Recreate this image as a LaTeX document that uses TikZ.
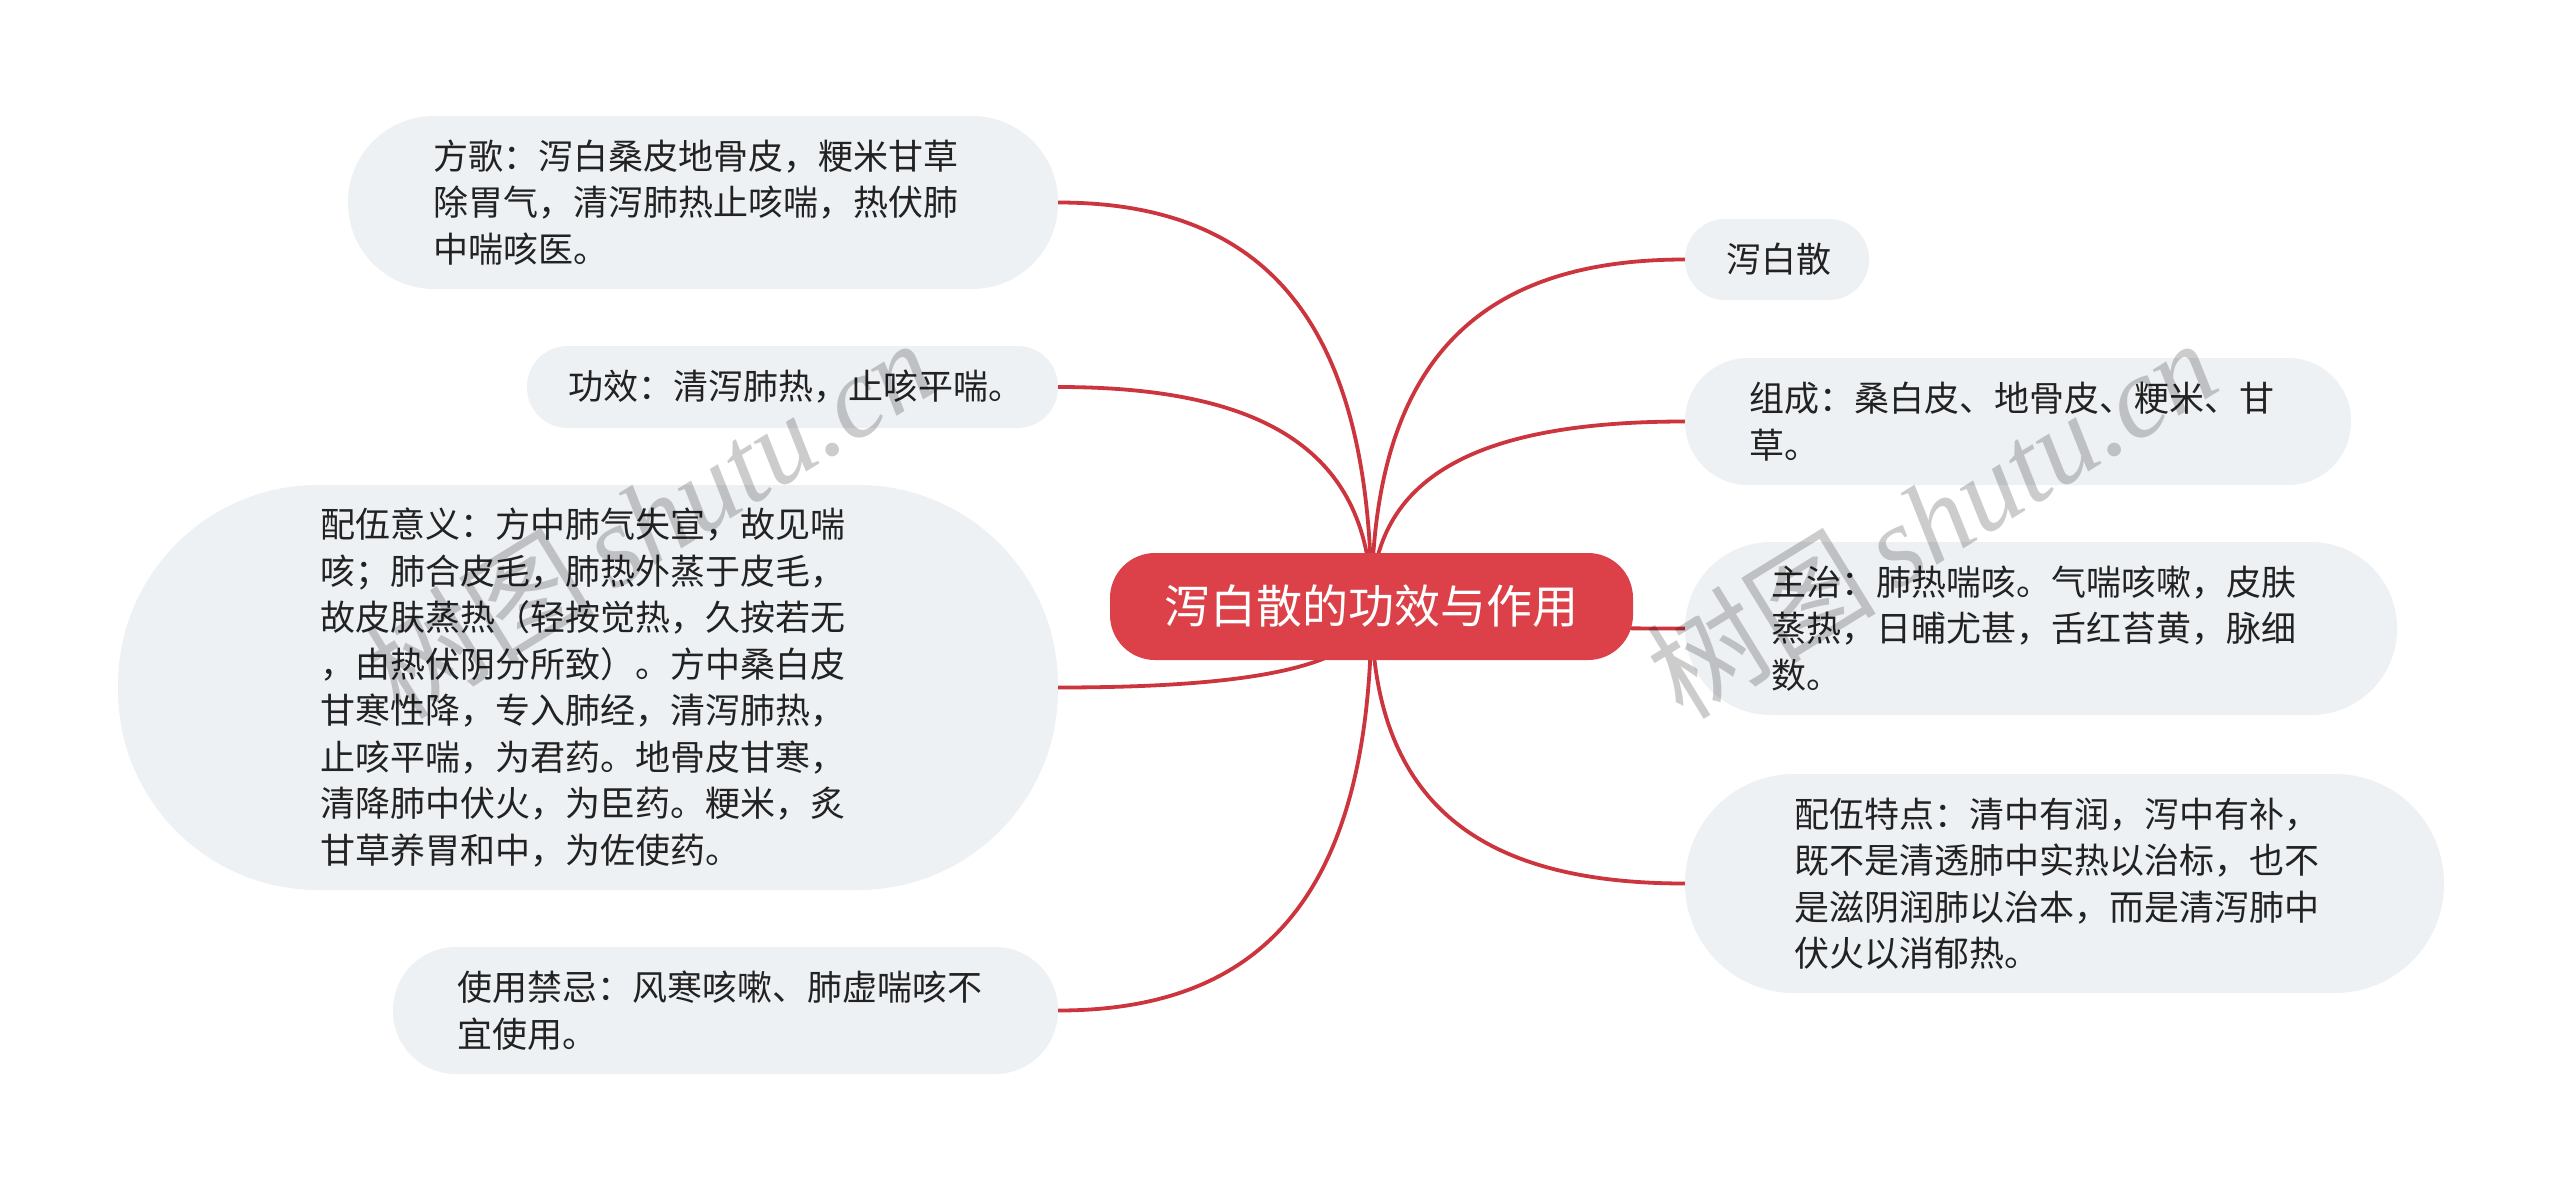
\documentclass[tikz,border=0pt]{standalone}
\usepackage{fontspec}
\setmainfont{Noto Sans CJK SC}
\newfontfamily\wmserif{Liberation Serif}
\usetikzlibrary{calc}
\definecolor{rootred}{RGB}{220,64,72}
\definecolor{linered}{RGB}{204,52,62}
\definecolor{boxfill}{RGB}{238,241,244}
\definecolor{txt}{RGB}{34,34,34}
\newcommand\mmconn[2]{\draw[connline] (#1.center) .. controls ($(#1.center)!0.7!(#1.center|-#2)$) and ($(#2)!0.667!(#1.center|-#2)$) .. (#2);}
\begin{document}
\begin{tikzpicture}[x=1pt,y=-1pt,
  connline/.style={draw=linered,line width=3.8pt},
  boxnode/.style={fill=boxfill,draw=none,inner sep=0pt},
  txtnode/.style={anchor=west,align=left,inner sep=0pt,text=txt,font=\fontsize{35}{46.5}\selectfont},
  rootnode/.style={fill=rootred,draw=none,inner sep=0pt,text=white,font=\fontsize{46}{55}\selectfont},
  wmark/.style={text=black,opacity=0.2,rotate=31.6,inner sep=0pt}]
\useasboundingbox (0,0) rectangle (2560,1191);
\fill[white] (0,0) rectangle (2560,1191);
% root
\coordinate (rc) at (1371.5,606.5);
% box positions
\node[boxnode,minimum width=710pt,minimum height=173pt,rounded corners=86pt] (b1) at (703,202.5) {};
\node[boxnode,minimum width=531pt,minimum height=82pt,rounded corners=40.5pt] (b2) at (792.5,387) {};
\node[boxnode,minimum width=940pt,minimum height=405pt,rounded corners=200pt] (b3) at (588,687.5) {};
\node[boxnode,minimum width=665pt,minimum height=127pt,rounded corners=63pt] (b4) at (725.5,1010.5) {};
\node[boxnode,minimum width=184pt,minimum height=81pt,rounded corners=40pt] (r1) at (1777,259.5) {};
\node[boxnode,minimum width=666pt,minimum height=127pt,rounded corners=63pt] (r2) at (2018,421.5) {};
\node[boxnode,minimum width=712pt,minimum height=173pt,rounded corners=86pt] (r3) at (2041,628.5) {};
\node[boxnode,minimum width=759pt,minimum height=219pt,rounded corners=109pt] (r4) at (2064.5,883.5) {};
% connectors
\node[inner sep=0pt,minimum size=0pt] (root0) at (rc) {};
\mmconn{root0}{b1.east}
\mmconn{root0}{b2.east}
\mmconn{root0}{b3.east}
\mmconn{root0}{b4.east}
\mmconn{root0}{r1.west}
\mmconn{root0}{r2.west}
\mmconn{root0}{r3.west}
\mmconn{root0}{r4.west}
% root node
\node[rootnode,minimum width=523pt,minimum height=107pt,rounded corners=45pt] (root) at (rc) {泻白散的功效与作用};
% texts
\node[txtnode] (t1) at (433,202.5) {方歌：泻白桑皮地骨皮，粳米甘草\\除胃气，清泻肺热止咳喘，热伏肺\\中喘咳医。};
\node[txtnode] (t2) at (568,387) {功效：清泻肺热，止咳平喘。};
\node[txtnode] (t3) at (320,687.5) {配伍意义：方中肺气失宣，故见喘\\咳；肺合皮毛，肺热外蒸于皮毛，\\故皮肤蒸热（轻按觉热，久按若无\\，由热伏阴分所致）。方中桑白皮\\甘寒性降，专入肺经，清泻肺热，\\止咳平喘，为君药。地骨皮甘寒，\\清降肺中伏火，为臣药。粳米，炙\\甘草养胃和中，为佐使药。};
\node[txtnode] (t4) at (457,1010.5) {使用禁忌：风寒咳嗽、肺虚喘咳不\\宜使用。};
\node[txtnode] (s1) at (1726,259.5) {泻白散};
\node[txtnode] (s2) at (1749,421.5) {组成：桑白皮、地骨皮、粳米、甘\\草。};
\node[txtnode] (s3) at (1771,628.5) {主治：肺热喘咳。气喘咳嗽，皮肤\\蒸热，日晡尤甚，舌红苔黄，脉细\\数。};
\node[txtnode] (s4) at (1794,883.5) {配伍特点：清中有润，泻中有补，\\既不是清透肺中实热以治标，也不\\是滋阴润肺以治本，而是清泻肺中\\伏火以消郁热。};
% watermarks
\node[wmark,font=\fontsize{115}{120}\selectfont] (wm1) at (649,518) {树图\,{\wmserif\itshape shutu.cn}};
\node[wmark,font=\fontsize{115}{120}\selectfont] (wm2) at (1931,518) {树图\,{\wmserif\itshape shutu.cn}};
\end{tikzpicture}
\end{document}
